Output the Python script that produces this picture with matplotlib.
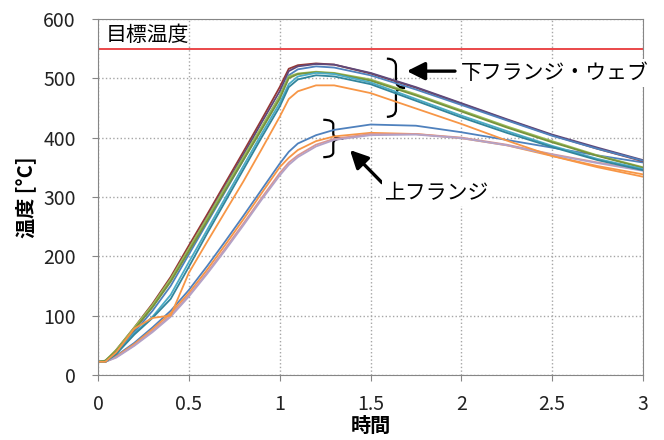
import numpy as np
import matplotlib
matplotlib.use('Agg')
import matplotlib.pyplot as plt
from matplotlib.path import Path
from matplotlib.patches import PathPatch

plt.rcParams['font.family'] = ['Noto Sans CJK JP', 'DejaVu Sans']

# 時間 [h]
t = [0, 0.04, 0.1, 0.2, 0.3, 0.4, 0.5, 0.6, 0.7, 0.8, 0.9, 1.0, 1.05, 1.1, 1.2, 1.3,
     1.5, 1.75, 2.0, 2.25, 2.5, 2.75, 3.0]

# 下フランジ・ウェブ
lower_1 = [22, 22, 42, 80, 120, 165, 218, 270, 323, 376, 430, 485, 516, 522, 525, 523, 508, 484, 457, 430, 404, 381, 360]
lower_2 = [22, 23, 40, 76, 115, 160, 212, 265, 318, 371, 425, 478, 512, 520, 524, 523, 509, 485, 458, 431, 405, 383, 362]
lower_3 = [22, 23, 38, 72, 108, 150, 203, 256, 309, 362, 416, 470, 505, 515, 520, 518, 505, 481, 455, 429, 403, 381, 361]
lower_4 = [22, 24, 42, 80, 118, 162, 213, 264, 316, 367, 418, 470, 503, 508, 511, 509, 498, 473, 446, 419, 394, 370, 350]
lower_5 = [22, 24, 40, 77, 114, 157, 208, 259, 311, 362, 413, 465, 500, 507, 510, 508, 496, 471, 444, 417, 392, 369, 349]
lower_6 = [22, 22, 36, 70, 98, 135, 190, 244, 298, 352, 406, 458, 490, 503, 509, 507, 493, 465, 437, 411, 386, 364, 347]
lower_7 = [22, 22, 35, 68, 96, 128, 182, 238, 292, 346, 400, 452, 485, 498, 505, 503, 490, 462, 434, 408, 384, 362, 345]
lower_8 = [22, 22, 38, 78, 96, 100, 172, 224, 275, 326, 380, 435, 465, 478, 488, 488, 475, 449, 423, 395, 369, 350, 334]

# 上フランジ
upper_1 = [22, 22, 32, 54, 80, 108, 143, 183, 225, 268, 312, 356, 376, 390, 404, 413, 422, 420, 409, 396, 383, 370, 358]
upper_2 = [22, 22, 31, 52, 77, 104, 138, 177, 219, 262, 306, 350, 366, 379, 394, 402, 408, 406, 399, 387, 369, 352, 338]
upper_3 = [22, 22, 30, 50, 74, 100, 134, 172, 213, 255, 298, 340, 358, 370, 388, 398, 406, 406, 400, 388, 372, 358, 345]
upper_4 = [22, 22, 29, 49, 72, 98, 132, 170, 210, 252, 295, 336, 354, 367, 385, 396, 404, 405, 399, 387, 371, 357, 344]

lower_series = [lower_1, lower_2, lower_3, lower_4, lower_5, lower_6, lower_7, lower_8]
lower_colors = ['#953735', '#5F497A', '#4F81BD', '#9BBB59', '#77933C', '#4BACC6', '#31859C', '#F79646']
upper_series = [upper_1, upper_2, upper_3, upper_4]
upper_colors = ['#4F81BD', '#F79646', '#D99694', '#B3A2C7']

target_temp = 550

fig = plt.figure(figsize=(6.64, 4.4), dpi=100)
ax = fig.add_axes([0.1476, 0.148, 0.8208, 0.809])

for y, c in zip(upper_series, upper_colors):
    ax.plot(t, y, color=c, lw=1.3)
for y, c in zip(lower_series, lower_colors):
    ax.plot(t, y, color=c, lw=1.3)

ax.axhline(target_temp, color='#E8393B', lw=1.3)

ax.set_xlim(0, 3)
ax.set_ylim(0, 600)
ax.set_xticks([0, 0.5, 1, 1.5, 2, 2.5, 3])
ax.set_xticklabels(['0', '0.5', '1', '1.5', '2', '2.5', '3'])
ax.set_yticks(range(0, 601, 100))
ax.grid(True, linestyle=':', color='#a6a6a6', lw=1)
ax.set_axisbelow(True)
for s in ax.spines.values():
    s.set_color('#868686')
ax.tick_params(colors='#868686', labelcolor='#222222', labelsize=14, length=4)
ax.tick_params(axis='x', pad=10)
ax.tick_params(axis='y', pad=12)

ax.set_xlabel('時間', fontsize=14.5, fontweight='bold', labelpad=0)
ax.set_ylabel('温度 [°C]', fontsize=14.5, fontweight='bold', labelpad=5)

ax.text(0.044, 573, '目標温度', fontsize=15, va='center', ha='left')


def brace(ax, x0, y_top, y_bot, w):
    ym = (y_top + y_bot) / 2
    h = y_top - ym
    xm = x0 + w / 2
    verts = [(x0, y_top), (xm, y_top), (xm, y_top - h * 0.25),
             (xm, ym + h * 0.25), (xm, ym), (x0 + w, ym),
             (xm, ym), (xm, ym - h * 0.25),
             (xm, y_bot + h * 0.25), (xm, y_bot), (x0, y_bot)]
    codes = [Path.MOVETO, Path.CURVE3, Path.CURVE3,
             Path.LINETO, Path.CURVE3, Path.CURVE3,
             Path.CURVE3, Path.CURVE3,
             Path.LINETO, Path.CURVE3, Path.CURVE3]
    ax.add_patch(PathPatch(Path(verts, codes), fc='none', ec='black', lw=1.6, clip_on=False))


arrow = dict(arrowstyle='-|>,head_length=0.6,head_width=0.3', color='black', lw=2.4,
             mutation_scale=18, shrinkA=0, shrinkB=0)

brace(ax, 1.59, 533, 435, 0.1)
ax.annotate('', xy=(1.70, 512), xytext=(1.965, 512), arrowprops=arrow)
ax.text(2.0, 509, '下フランジ・ウェブ', fontsize=15, va='center', ha='left', clip_on=False,
        bbox=dict(fc='white', ec='none', pad=2))

brace(ax, 1.24, 430, 367, 0.11)
ax.annotate('', xy=(1.387, 379), xytext=(1.563, 324), arrowprops=arrow)
ax.text(1.58, 307, '上フランジ', fontsize=15, va='center', ha='left',
        bbox=dict(fc='white', ec='none', pad=2))

fig.savefig('out.png', dpi=100)
